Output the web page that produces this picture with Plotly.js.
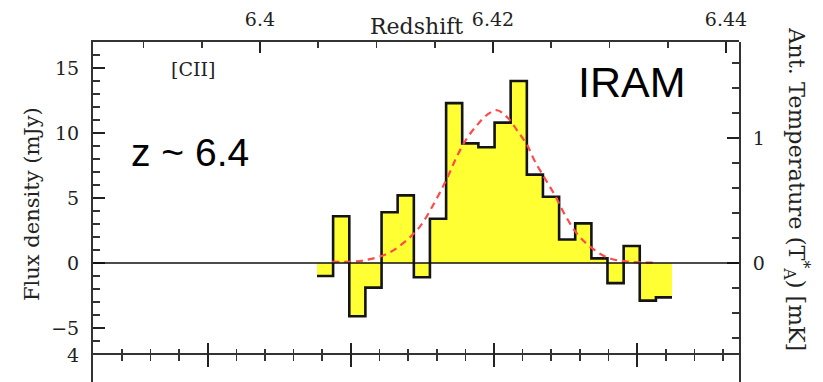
<!DOCTYPE html>
<html>
<head>
<meta charset="utf-8">
<script src="https://cdn.plot.ly/plotly-3.0.1.min.js"></script>
<style>
  html, body { margin: 0; padding: 0; overflow: hidden; background: #fff; }
  #chart { width: 823px; height: 480px; }
</style>
</head>
<body>
<div id="chart"></div>
<script>
// [CII] spectrum: bin centres in redshift and flux density per bin (mJy)
const binCentres = [6.40559, 6.40697, 6.40836, 6.40974, 6.41113, 6.41251, 6.41390, 6.41528,
                    6.41667, 6.41805, 6.41944, 6.42083, 6.42221, 6.42360, 6.42498, 6.42637,
                    6.42775, 6.42914, 6.43052, 6.43191, 6.43329, 6.43468];
const fluxMJy = [-1.0, 3.6, -4.1, -1.9, 3.9, 5.2, -1.1, 3.4,
                 12.3, 9.2, 8.9, 10.8, 14.0, 6.8, 5.1, 1.8,
                 3.05, 0.35, -1.55, 1.3, -2.9, -2.65];

// Gaussian fit to the line, sampled along the curve
const fitZ = [6.40618, 6.40773, 6.40884, 6.41090, 6.41245, 6.41373, 6.41502, 6.41605,
              6.41691, 6.41777, 6.41863, 6.41949, 6.42034, 6.42129, 6.42215, 6.42292,
              6.42361, 6.42446, 6.42532, 6.42618, 6.42730, 6.42850, 6.42987, 6.43159, 6.43416];
const fitFlux = [0.08, 0.1, 0.18, 0.7, 1.64, 2.8, 4.7, 6.5,
                 8.2, 9.6, 10.6, 11.4, 11.75, 11.15, 10.1, 9.1,
                 7.8, 6.5, 5.2, 3.7, 2.15, 1.15, 0.4, 0.1, 0.03];

// Axis ranges and labelled ticks
const zRange = [6.38567, 6.44112];
const velRange = [-1401, 856];
const fluxRange = [-7.08, 17.0];
const mJyPerMK = 9.615;
const tempRange = [fluxRange[0] / mJyPerMK, fluxRange[1] / mJyPerMK];
const lowerPanelTicks = [4];

// Step outline edges derived from the bin centres
const w = binCentres[1] - binCentres[0];
const edges = binCentres.map(c => c - w / 2).concat([binCentres[binCentres.length - 1] + w / 2]);
const stepY = fluxMJy.concat([fluxMJy[fluxMJy.length - 1]]);

const W = 823, H = 480;
const M = { l: 93, r: 84, t: 42, b: 20 };
const plotW = W - M.l - M.r, plotH = H - M.t - M.b;
const px2x = p => (p - M.l) / plotW;
const px2y = p => (H - M.b - p) / plotH;
const splitY = 355;
const upperBottom = px2y(splitY);
const upperDomain = [upperBottom, 1];

const serif = 'DejaVu Serif';
const ink = '#222';
const sans = 'Liberation Sans, Arial, sans-serif';

const blank = (xa, ya) => ({ x: [null], y: [null], xaxis: xa, yaxis: ya, type: 'scatter',
                             mode: 'lines', showlegend: false, hoverinfo: 'skip' });

const data = [
  {
    x: edges, y: stepY, xaxis: 'x', yaxis: 'y',
    type: 'scatter', mode: 'lines',
    line: { shape: 'hv', color: '#141414', width: 2.6 },
    fill: 'tozeroy', fillcolor: '#ffff33',
    hoverinfo: 'skip', showlegend: false
  },
  {
    x: fitZ, y: fitFlux, xaxis: 'x', yaxis: 'y',
    type: 'scatter', mode: 'lines',
    line: { shape: 'spline', color: '#ff4a4a', width: 2.2, dash: '7px,5px' },
    hoverinfo: 'skip', showlegend: false
  },
  blank('x6', 'y6'),
  blank('x7', 'y7'),
  blank('x2', 'y2')
];

const frame = { showline: true, linewidth: 2, linecolor: '#333', showgrid: false, zeroline: false };
const bare = { showline: false, showgrid: false, zeroline: false, ticks: '', showticklabels: false };
const tickFont = { family: serif, size: 19, color: ink };
const major = (len) => ({ ticks: 'inside', ticklen: len, tickwidth: 1.8, tickcolor: '#222' });
const minorTicks = (d, len) => ({ dtick: d, ticks: 'inside', ticklen: len, tickwidth: 1.6, tickcolor: '#333', showgrid: false });

const layout = {
  width: W, height: H,
  margin: M,
  paper_bgcolor: '#fff', plot_bgcolor: 'rgba(0,0,0,0)',
  showlegend: false,
  // data axes of the upper panel (frame and ticks come from the axes below)
  xaxis: Object.assign({}, bare, { type: 'linear', anchor: 'y', range: zRange }),
  yaxis: Object.assign({}, bare, { type: 'linear', anchor: 'x', domain: upperDomain, range: fluxRange }),
  // redshift scale along the top, flux density on the left
  xaxis6: Object.assign({}, frame, major(11), {
    type: 'linear', anchor: 'y6', side: 'top', range: zRange,
    tickmode: 'linear', tick0: 6.4, dtick: 0.02,
    minor: minorTicks(0.005, 6),
    tickfont: tickFont, ticklabelstandoff: 6
  }),
  yaxis6: Object.assign({}, frame, major(12), {
    type: 'linear', domain: upperDomain, anchor: 'x6', side: 'left', range: fluxRange,
    tickmode: 'linear', tick0: 0, dtick: 5,
    minor: minorTicks(1, 7),
    tickfont: tickFont, ticklabelstandoff: 8
  }),
  // velocity ticks along the bottom, antenna temperature on the right
  xaxis7: Object.assign({}, frame, major(12), {
    type: 'linear', anchor: 'y7', side: 'bottom', range: velRange,
    tickmode: 'linear', tick0: 0, dtick: 500,
    minor: minorTicks(100, 6),
    showline: false, showticklabels: false
  }),
  yaxis7: Object.assign({}, frame, major(12), {
    type: 'linear', domain: upperDomain, anchor: 'x7', side: 'right', range: tempRange,
    tickmode: 'linear', tick0: 0, dtick: 1,
    minor: minorTicks(0.2, 7),
    tickfont: tickFont, ticklabelstandoff: 8
  }),
  // lower panel (continues below the visible area)
  xaxis2: Object.assign({}, frame, major(12), {
    type: 'linear', anchor: 'y2', side: 'top', range: velRange,
    tickmode: 'linear', tick0: 0, dtick: 500,
    minor: minorTicks(100, 6),
    linewidth: 2.5, showticklabels: false
  }),
  yaxis2: Object.assign({}, frame, major(12), {
    type: 'linear', domain: [0, upperBottom], anchor: 'x2', side: 'left', range: [-4, 4],
    tickmode: 'array', tickvals: lowerPanelTicks, mirror: true,
    tickfont: tickFont, ticklabelstandoff: 8
  }),
  shapes: [
    { type: 'line', xref: 'x domain', yref: 'y', x0: 0, x1: 1, y0: 0, y1: 0,
      line: { color: '#111', width: 1.6 }, layer: 'above' }
  ],
  annotations: [
    { text: 'Redshift', xref: 'paper', yref: 'paper', x: px2x(416), y: px2y(26),
      showarrow: false, xanchor: 'center', yanchor: 'middle',
      font: { family: serif, size: 22, color: ink } },
    { text: 'Flux density (mJy)', xref: 'paper', yref: 'paper', x: px2x(32), y: px2y(204),
      showarrow: false, textangle: -90, xanchor: 'center', yanchor: 'middle',
      font: { family: serif, size: 21, color: ink } },
    { text: 'Ant. Temperature (T<sup>*</sup><sub>A</sub>) [mK]', xref: 'paper', yref: 'paper',
      x: px2x(797), y: px2y(189),
      showarrow: false, textangle: 90, xanchor: 'center', yanchor: 'middle',
      font: { family: serif, size: 22.5, color: ink } },
    { text: '[CII]', xref: 'paper', yref: 'paper', x: px2x(193), y: px2y(69),
      showarrow: false, xanchor: 'center', yanchor: 'middle',
      font: { family: serif, size: 19, color: ink } },
    { text: 'z ~ 6.4', xref: 'paper', yref: 'paper', x: px2x(190), y: px2y(152),
      showarrow: false, xanchor: 'center', yanchor: 'middle',
      font: { family: sans, size: 39, color: '#000' } },
    { text: 'IRAM', xref: 'paper', yref: 'paper', x: px2x(632), y: px2y(82),
      showarrow: false, xanchor: 'center', yanchor: 'middle',
      font: { family: sans, size: 43, color: '#000' } }
  ]
};

Plotly.newPlot('chart', data, layout, { staticPlot: true, displayModeBar: false });
</script>
</body>
</html>
